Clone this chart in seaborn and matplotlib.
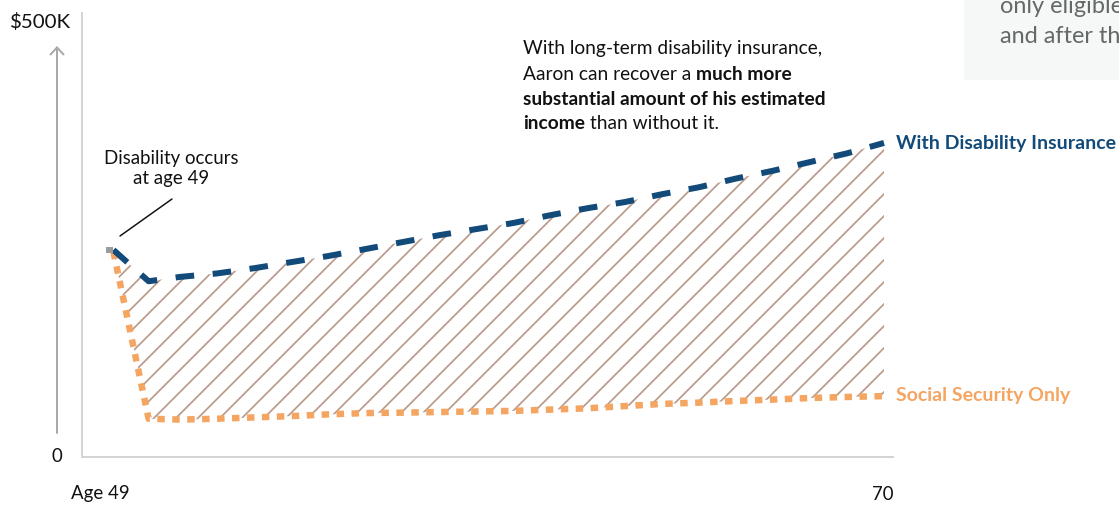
import numpy as np
import pandas as pd
import matplotlib
matplotlib.use("Agg")
import matplotlib.pyplot as plt
import seaborn as sns

# ---------------- data (ages, $K) ----------------
ages = [49.2, 50.15, 51, 52, 53, 54, 55, 56, 57, 58, 59, 60, 61, 62, 63,
        64, 65, 66, 67, 68, 69, 70]
with_di = [238, 202, 207, 211, 217, 224, 231, 239, 247, 255, 262, 269, 278,
           286, 293, 302, 310, 320, 329, 339, 349, 361]
ss_only = [236, 44, 43, 44, 45.5, 47, 49, 50.5, 51, 51.7, 52.3, 53, 54.5,
           56, 58.5, 61, 62.5, 64.4, 66, 67.8, 69, 70]
pre_ages = [49.0, 49.2]
pre_vals = [238, 238]
series_labels = ["With Disability Insurance", "Social Security Only"]
x_labels = ["Age 49", "70"]
y_labels = ["0", r"\$500K"]

# ---------------- styling ----------------
DPI = 132
W, H = 1119, 505
P = 72 / DPI  # points per pixel

sns.set_theme(style="white")
plt.rcParams["font.family"] = ["Lato", "DejaVu Sans"]
plt.rcParams["hatch.linewidth"] = 1.7 * P

BLUE = "#124a7a"
ORANGE = "#f4a562"
HATCH = "#b99a89"
GRAY = "#9a9d9b"

fig = plt.figure(figsize=(W / DPI, H / DPI), dpi=DPI)
fig.patch.set_facecolor("white")

# axes: left spine x=82, bottom spine y=457, top y=13, right x=893
ax = fig.add_axes([82 / W, 1 - 457 / H, (893 - 82) / W, (457 - 13) / H])
ax.set_facecolor("none")

df_di = pd.DataFrame({"age": ages, "val": with_di})
df_ss = pd.DataFrame({"age": ages, "val": ss_only})
df_pre = pd.DataFrame({"age": pre_ages, "val": pre_vals})

# hatched gap between the two outcomes
ax.fill_between(ages, ss_only, with_di, facecolor="none", edgecolor=HATCH,
                hatch="//", linewidth=0, zorder=1)

sns.lineplot(data=df_ss, x="age", y="val", ax=ax, color=ORANGE,
             linewidth=6.5 * P, linestyle=(0, (1.15, 1.15)),
             estimator=None, sort=False, zorder=3)
sns.lineplot(data=df_di, x="age", y="val", ax=ax, color=BLUE,
             linewidth=6 * P, linestyle=(0, (3.1, 3.1)),
             estimator=None, sort=False, zorder=4)
sns.lineplot(data=df_pre, x="age", y="val", ax=ax, color=GRAY,
             linewidth=6 * P, estimator=None, sort=False, zorder=5)
for ln in ax.lines:
    ln.set_solid_capstyle("butt")
    ln.set_dash_capstyle("butt")

px_per_year = (884 - 106) / 21.0
px_per_k = (457 - 22) / 500.0
ax.set_xlim(49 - 24 / px_per_year, 70 + 9 / px_per_year)
ax.set_ylim(0, 500 + 9 / px_per_k)
ax.set_xticks([])
ax.set_yticks([])
ax.set_xlabel("")
ax.set_ylabel("")
for s in ["top", "right"]:
    ax.spines[s].set_visible(False)
for s in ["left", "bottom"]:
    ax.spines[s].set_color("#d4d4d4")
    ax.spines[s].set_linewidth(2 * P)


def ftext(x, y, s, **kw):
    """text at figure pixel coords (origin top-left)."""
    return fig.text(x / W, 1 - y / H, s, **kw)


TXT = "#111111"
FS_AX = 18.7 * P
FS_BODY = 19.1 * P
FS_LAB = 19.5 * P

# axis labels
ftext(70, 22, y_labels[1], ha="right", va="center", fontsize=20.5 * P, color=TXT)
ftext(57, 457, y_labels[0], ha="center", va="center", fontsize=FS_AX, color=TXT)
ftext(100, 494, x_labels[0], ha="center", va="center", fontsize=FS_AX, color=TXT)
ftext(883, 494, x_labels[1], ha="center", va="center", fontsize=FS_AX, color=TXT)

# y arrow
fig.add_artist(matplotlib.patches.FancyArrowPatch(
    posA=(57 / W, 1 - 433 / H), posB=(57 / W, 1 - 46 / H),
    transform=fig.transFigure, arrowstyle="->,head_length=%f,head_width=%f" % (7 * P, 6.5 * P),
    color="#a9a9a9", linewidth=2 * P, shrinkA=0, shrinkB=0))

# series labels
ftext(896, 143, series_labels[0], ha="left", va="center", fontsize=FS_LAB,
      color=BLUE, fontweight="bold")
ftext(896, 395, series_labels[1], ha="left", va="center", fontsize=FS_LAB,
      color=ORANGE, fontweight="bold")

# disability annotation
ftext(171, 168.5, "Disability occurs\nat age 49", ha="center", va="center",
      multialignment="center", fontsize=FS_AX, color=TXT, linespacing=1.2)
ax.annotate("", xy=(49 + (120 - 106) / px_per_year, (457 - 236) / px_per_k),
            xytext=(49 + (172 - 106) / px_per_year, (457 - 199) / px_per_k),
            arrowprops=dict(arrowstyle="-", color="#111111", lw=1.5 * P,
                            shrinkA=0, shrinkB=0))

# rich paragraph
fig.canvas.draw()
renderer = fig.canvas.get_renderer()


def width_px(s, weight):
    t = ftext(0, 0, s, fontsize=FS_BODY, fontweight=weight)
    w = t.get_window_extent(renderer).width
    t.remove()
    return w


space_w = width_px("x x", "normal") - width_px("xx", "normal")

lines = [
    [("With long-term disability insurance,", "normal")],
    [("Aaron can recover a", "normal"), ("much more", "bold")],
    [("substantial amount of his estimated", "bold")],
    [("income", "bold"), ("than without it.", "normal")],
]
x0 = 523
y_base = [54, 80, 105, 129]
for yb, parts in zip(y_base, lines):
    x = x0
    for i, (s, wgt) in enumerate(parts):
        if i > 0:
            x += space_w
        ftext(x, yb, s, ha="left", va="baseline", fontsize=FS_BODY,
              fontweight=wgt, color=TXT)
        x += width_px(s, wgt)

# cropped side panel (top right)
fig.add_artist(matplotlib.patches.Rectangle((964 / W, 1 - 80 / H), (W - 964) / W, 80 / H,
                                            transform=fig.transFigure,
                                            facecolor="#f6f8f7", edgecolor="none",
                                            zorder=0))
ftext(1000, 13, "only eligible for", ha="left", va="baseline", fontsize=23.5 * P,
      color="#636868", fontweight="normal")
ftext(1000, 43, "and after the", ha="left", va="baseline", fontsize=23.5 * P,
      color="#636868", fontweight="normal")

fig.savefig("out.png", dpi=DPI)
